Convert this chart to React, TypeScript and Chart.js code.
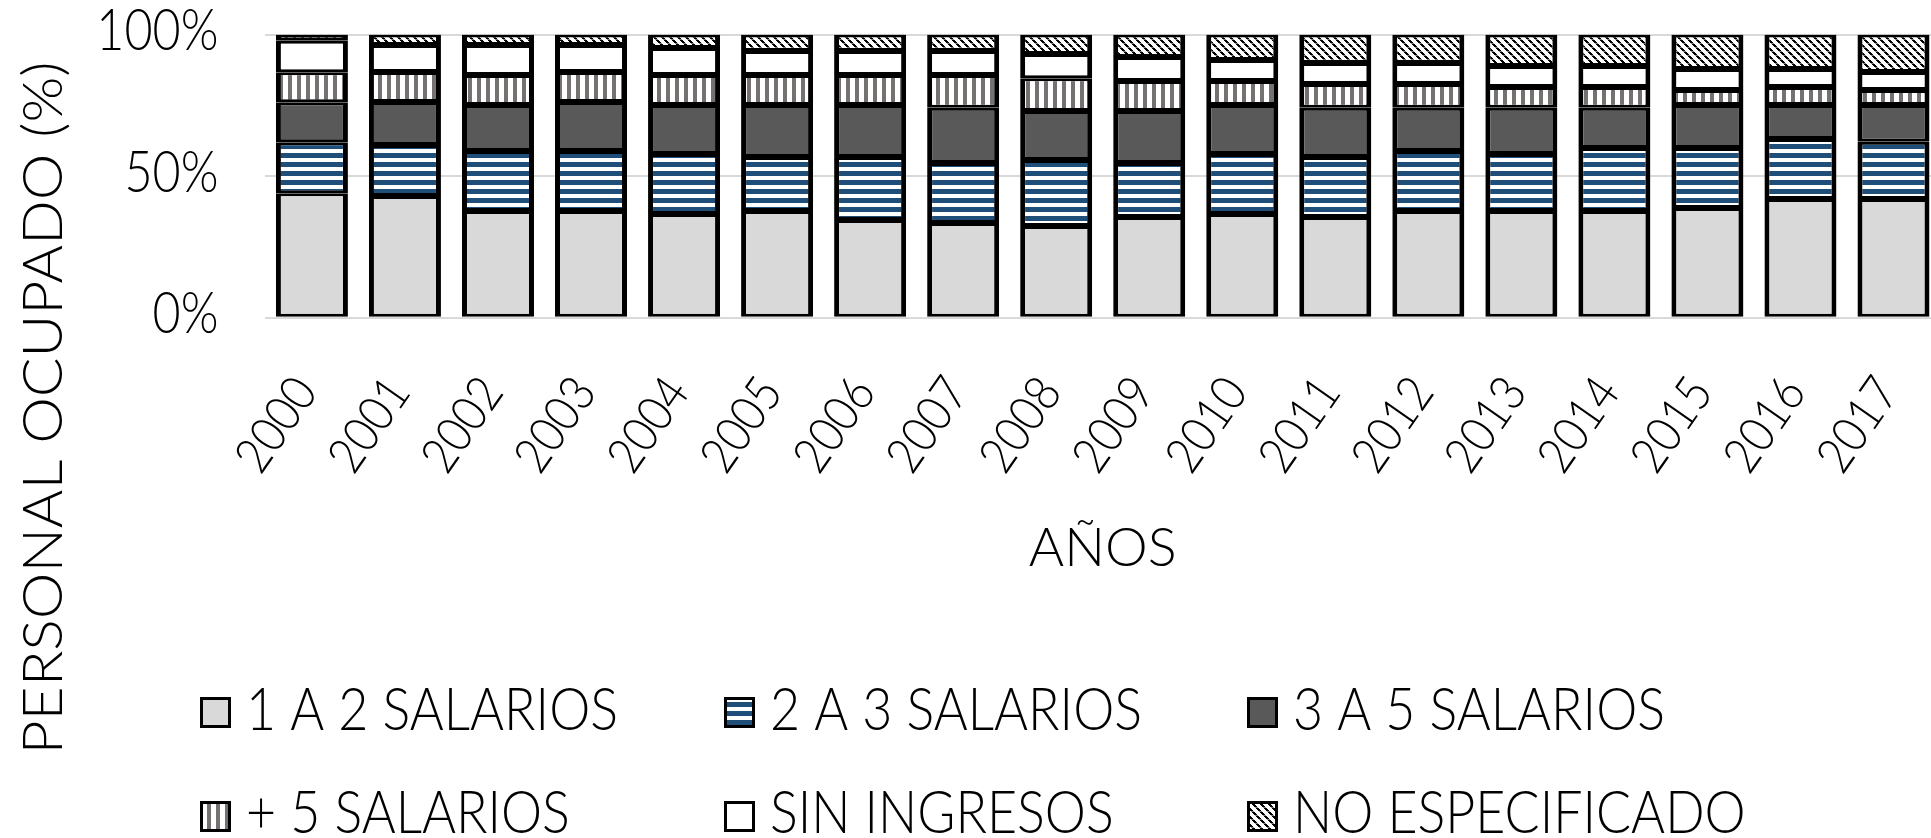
import React, { useEffect, useRef } from 'react';
import { Chart, registerables, CategoryScale, LinearScale } from 'chart.js';

// ---------------- data ----------------
const YEARS = ['2000', '2001', '2002', '2003', '2004', '2005', '2006', '2007', '2008', '2009', '2010', '2011', '2012', '2013', '2014', '2015', '2016', '2017'];
const SERIES_LABELS = ['1 A 2 SALARIOS', '2 A 3 SALARIOS', '3 A 5 SALARIOS', '+ 5 SALARIOS', 'SIN INGRESOS', 'NO ESPECIFICADO'];
const S_1A2 = [44.0, 43.0, 37.7, 37.7, 36.6, 37.7, 34.5, 33.5, 32.4, 35.6, 36.6, 35.6, 37.7, 37.7, 37.7, 38.8, 41.9, 41.9];
const S_2A3 = [18.0, 18.0, 21.2, 21.2, 21.2, 19.1, 22.3, 21.1, 23.3, 19.0, 21.2, 21.2, 21.2, 20.1, 22.2, 21.1, 21.2, 20.2];
const S_3A5 = [14.1, 15.2, 16.2, 17.3, 17.3, 18.3, 18.3, 19.5, 17.3, 18.4, 17.3, 17.3, 15.2, 16.3, 14.2, 15.2, 12.0, 13.0];
const S_MAS5 = [10.6, 10.6, 10.6, 10.6, 10.6, 10.6, 10.6, 11.6, 11.6, 10.6, 8.5, 8.4, 8.4, 7.4, 7.4, 5.3, 6.4, 5.3];
const S_SIN = [11.1, 9.5, 10.6, 9.5, 9.5, 8.5, 8.5, 8.5, 8.5, 8.5, 7.4, 7.4, 7.4, 7.4, 7.4, 7.4, 6.3, 6.4];
const S_NE = [2.2, 3.7, 3.7, 3.7, 4.8, 5.8, 5.8, 5.8, 6.9, 7.9, 9.0, 10.1, 10.1, 11.1, 11.1, 12.2, 12.2, 13.2];
const Y_TICK_VALUES = [0, 50, 100];
const Y_TITLE = 'PERSONAL OCUPADO (%)';
const X_TITLE = 'AÑOS';

// ---------------- layout ----------------
const CANVAS_W = 1940;
const CANVAS_H = 838;
const CHART_LEFT = 265.4;
const CHART_TOP = 34.5;
const CHART_BOTTOM = 317.8;
const X_AXIS_BOTTOM = 581.4;
const FONT = 'Lato';
const X_LABEL_SQUEEZE = 0.88;
const Y_LABEL_SQUEEZE = 0.85;
const LEGEND_FONT = 60;
const LEGEND_REF_WIDTH = 372;
const LEGEND_COL_X = [200, 724, 1247];
const LEGEND_BOX_Y = [697, 801];
const LEGEND_BASE_Y = [730, 833];
const LEGEND_BOX = 31;
const LEGEND_TEXT_GAP = 46;
const Y_TITLE_X = 62;
const Y_TITLE_CY = 408;
const Y_TITLE_LEN = 693;

Chart.register(...registerables);

function drawSqueezedLabels(scale: any, chartArea: any, sx: number) {
  if (!scale.options.ticks.display) return;
  const ctx: CanvasRenderingContext2D = scale.ctx;
  const items = scale.getLabelItems(chartArea);
  for (const item of items) {
    const o = item.options;
    ctx.save();
    ctx.translate(o.translation[0], o.translation[1]);
    if (o.rotation) ctx.rotate(o.rotation);
    ctx.scale(sx, 1);
    ctx.font = item.font.string;
    ctx.fillStyle = o.color;
    ctx.textAlign = o.textAlign;
    ctx.textBaseline = o.textBaseline;
    const lines = Array.isArray(item.label) ? item.label : [item.label];
    let y = item.textOffset;
    for (const l of lines) {
      ctx.fillText(String(l), 0, y);
      y += item.font.lineHeight;
    }
    ctx.restore();
  }
}

class SqueezedCategory extends CategoryScale {
  static id = 'squeezedCategory';
  static defaults = (CategoryScale as any).defaults;
  drawLabels(chartArea: any) {
    drawSqueezedLabels(this, chartArea, X_LABEL_SQUEEZE);
  }
}
class SqueezedLinear extends LinearScale {
  static id = 'squeezedLinear';
  static defaults = (LinearScale as any).defaults;
  drawLabels(chartArea: any) {
    drawSqueezedLabels(this, chartArea, Y_LABEL_SQUEEZE);
  }
}
Chart.register(SqueezedCategory as any, SqueezedLinear as any);

function makePattern(w: number, h: number, draw: (g: CanvasRenderingContext2D) => void): CanvasPattern | string {
  const c = document.createElement('canvas');
  c.width = w;
  c.height = h;
  const g = c.getContext('2d');
  if (!g) return '#888';
  draw(g);
  return g.createPattern(c, 'repeat') || '#888';
}

const overlayPlugin = {
  id: 'overlayTexts',
  afterDraw(chart: any) {
    const ctx: CanvasRenderingContext2D = chart.ctx;
    // y-axis title
    ctx.save();
    ctx.font = `300 56px ${FONT}`;
    const tw = ctx.measureText(Y_TITLE).width;
    ctx.translate(Y_TITLE_X, Y_TITLE_CY);
    ctx.rotate(-Math.PI / 2);
    ctx.scale(Y_TITLE_LEN / tw, 1);
    ctx.fillStyle = '#000';
    ctx.textAlign = 'center';
    ctx.textBaseline = 'alphabetic';
    ctx.fillText(Y_TITLE, 0, 0);
    ctx.restore();

    // legend
    ctx.save();
    ctx.font = `300 ${LEGEND_FONT}px ${FONT}`;
    const sx = LEGEND_REF_WIDTH / ctx.measureText(chart.data.datasets[0].label).width;
    chart.data.datasets.forEach((ds: any, i: number) => {
      const col = i % 3;
      const row = Math.floor(i / 3);
      const bx = LEGEND_COL_X[col];
      const by = LEGEND_BOX_Y[row];
      ctx.fillStyle = ds.backgroundColor;
      ctx.fillRect(bx, by, LEGEND_BOX, LEGEND_BOX);
      ctx.lineWidth = 3;
      ctx.strokeStyle = '#000';
      ctx.strokeRect(bx + 1.5, by + 1.5, LEGEND_BOX - 3, LEGEND_BOX - 3);
      ctx.save();
      ctx.translate(bx + LEGEND_TEXT_GAP, LEGEND_BASE_Y[row]);
      ctx.scale(sx, 1);
      ctx.fillStyle = '#000';
      ctx.textAlign = 'left';
      ctx.textBaseline = 'alphabetic';
      ctx.fillText(ds.label, 0, 0);
      ctx.restore();
    });
    ctx.restore();
  },
};

export default function App() {
  const ref = useRef<HTMLCanvasElement | null>(null);

  useEffect(() => {
    if (!ref.current) return;
    const pLight = '#d9d9d9';
    const pBlue = makePattern(1, 9, (g) => {
      g.fillStyle = '#ffffff';
      g.fillRect(0, 0, 1, 9);
      g.fillStyle = '#1f4e79';
      g.fillRect(0, 0, 1, 5);
    });
    const pDark = '#595959';
    const pVert = makePattern(9, 1, (g) => {
      g.fillStyle = '#ffffff';
      g.fillRect(0, 0, 9, 1);
      g.fillStyle = '#767171';
      g.fillRect(0, 0, 4, 1);
    });
    const pWhite = '#ffffff';
    const pNE = makePattern(8, 8, (g) => {
      g.fillStyle = '#ffffff';
      g.fillRect(0, 0, 8, 8);
      for (let y = 0; y < 8; y++) {
        g.fillStyle = y % 4 === 3 ? '#7f7f7f' : '#000000';
        for (let k = 0; k < 3; k++) {
          g.fillRect((y + k) % 8, y, 1, 1);
        }
      }
    });
    const fills = [pLight, pBlue, pDark, pVert, pWhite, pNE];
    const values = [S_1A2, S_2A3, S_3A5, S_MAS5, S_SIN, S_NE];

    const datasets = values.map((d, i) => ({
      label: SERIES_LABELS[i],
      data: d,
      backgroundColor: fills[i],
      borderColor: '#000000',
      borderWidth: { top: 3, bottom: 3, left: 5, right: 5 },
      borderSkipped: false,
      barPercentage: 0.774,
      categoryPercentage: 1,
    }));

    const chart = new Chart(ref.current, {
      type: 'bar',
      data: { labels: YEARS, datasets: datasets as any },
      options: {
        animation: false,
        responsive: false,
        devicePixelRatio: 1,
        layout: { padding: { top: CHART_TOP, bottom: CANVAS_H - X_AXIS_BOTTOM, left: 0, right: 0 } },
        plugins: { legend: { display: false }, tooltip: { enabled: false } },
        scales: {
          x: {
            type: 'squeezedCategory' as any,
            stacked: true,
            offset: true,
            grid: { display: false, drawTicks: false },
            border: { display: false },
            ticks: {
              autoSkip: false,
              minRotation: 55,
              maxRotation: 55,
              padding: 48,
              labelOffset: -6,
              color: '#000',
              font: { family: FONT, size: 50, weight: '300' as any },
            },
            title: {
              display: true,
              text: X_TITLE,
              color: '#000',
              padding: 0,
              font: { family: FONT, size: 54, weight: '300' as any },
            },
            afterFit: (s: any) => {
              s.height = X_AXIS_BOTTOM - CHART_BOTTOM;
              s.paddingLeft = 0;
              s.paddingRight = 0;
            },
          },
          y: {
            type: 'squeezedLinear' as any,
            stacked: true,
            min: 0,
            max: 100,
            grid: { color: '#d9d9d9', lineWidth: 2, drawTicks: false },
            border: { display: false },
            ticks: {
              stepSize: 50,
              padding: 47,
              labelOffset: -3,
              color: '#000',
              font: { family: FONT, size: 57, weight: '300' as any },
              callback: (v: any) => v + '%',
            },
            afterBuildTicks: (s: any) => {
              s.ticks = Y_TICK_VALUES.map((v) => ({ value: v }));
            },
            afterFit: (s: any) => {
              s.width = CHART_LEFT;
              s.paddingTop = 0;
              s.paddingBottom = 0;
            },
          },
        },
      },
      plugins: [overlayPlugin],
    });
    return () => chart.destroy();
  }, []);

  return (
    <div style={{ position: 'fixed', left: 0, top: 0, width: 1931, height: 838, overflow: 'hidden', background: '#ffffff' }}>
      <canvas ref={ref} width={CANVAS_W} height={CANVAS_H} style={{ display: 'block', width: CANVAS_W, height: CANVAS_H }} />
    </div>
  );
}
